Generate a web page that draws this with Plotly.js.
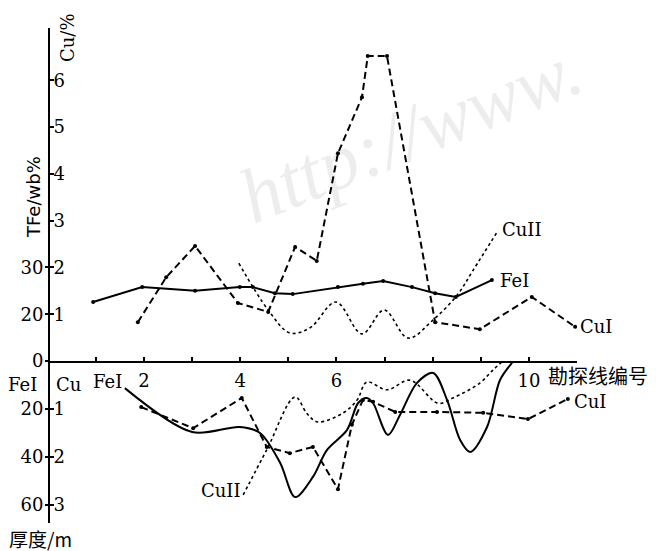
<!DOCTYPE html>
<html><head><meta charset="utf-8">
<script src="https://cdn.plot.ly/plotly-3.0.1.min.js"></script>
<style>html,body{margin:0;padding:0;background:#fff}</style>
</head><body><div id="chart" style="width:656px;height:551px"></div>
<script>
// ---- Upper panel: grade (TFe wb% / Cu %) ----
const feUpX  = [0.94, 1.96, 3.06, 3.99, 4.26, 4.72, 5.09, 6.03, 6.55, 6.97, 7.57, 8.05, 8.48, 9.23];
const feUpY  = [22.6, 25.8, 25.0, 25.8, 25.8, 24.5, 24.3, 25.8, 26.5, 27.1, 25.8, 24.5, 23.7, 27.3];
const cu1UpX = [1.87, 2.46, 3.06, 3.95, 4.58, 5.14, 5.59, 6.03, 6.53, 6.65, 7.05, 8.05, 8.98, 10.06, 10.96];
const cu1UpY = [0.83, 1.79, 2.46, 1.24, 1.05, 2.44, 2.14, 4.44, 5.64, 6.52, 6.52, 0.83, 0.68, 1.37, 0.73];
const cu2UpX = [3.97, 4.58, 5.03, 5.45, 5.99, 6.53, 6.99, 7.49, 8.01, 8.51, 8.84, 9.34];
const cu2UpY = [2.09, 1.09, 0.60, 0.71, 1.26, 0.58, 1.09, 0.49, 0.88, 1.41, 1.94, 2.76];
// ---- Lower panel: thickness (m) ----
const feLoX  = [1.60, 3.00, 3.99, 4.41, 4.83, 5.14, 5.51, 5.80, 6.22, 6.45, 6.63, 6.76, 7.07, 7.32, 7.67, 8.01, 8.30, 8.57, 8.78, 9.13, 9.40, 9.65];
const feLoY  = [11.3, 29.6, 27.5, 30.0, 42.5, 56.7, 48.3, 37.1, 28.7, 17.5, 15.4, 17.5, 30.8, 22.5, 9.2, 5.0, 16.3, 32.9, 37.9, 27.5, 7.9, 0.8];
const cu1LoX = [1.94, 3.02, 4.03, 4.55, 5.03, 5.51, 6.03, 6.32, 6.55, 6.76, 7.22, 8.09, 9.05, 9.98, 10.81];
const cu1LoY = [0.96, 1.40, 0.77, 1.79, 1.92, 1.79, 2.67, 1.33, 0.81, 0.85, 1.06, 1.06, 1.08, 1.21, 0.79];
const cu2LoX = [4.06, 4.55, 5.14, 5.39, 5.61, 6.14, 6.43, 6.63, 7.05, 7.53, 8.11, 8.42, 8.98, 9.25, 9.44];
const cu2LoY = [2.79, 1.85, 0.75, 1.10, 1.27, 1.08, 0.81, 0.44, 0.60, 0.40, 0.88, 0.77, 0.46, 0.19, 0.02];
// ---- ticks ----
const xTickVals = [1, 2, 3, 4, 5, 6, 7, 8, 9, 10, 11];
const xTickText = ['', '2', '', '4', '', '6', '', '', '', '10', ''];
const cuUpTicks = [1, 2, 3, 4, 5, 6];
const feUpTicks = [10, 20, 30];
const feUpText  = ['0', '20', '30'];
const cuLoTicks = [1, 2, 3];
const feLoTicks = [20, 40, 60];

const K = 'black';
const serif = 'DejaVu Serif';
const dashP = '7px,4px';

const traces = [
  {x: feUpX, y: feUpY, xaxis: 'x', yaxis: 'y3', mode: 'lines+markers', line: {color: K, width: 2}, marker: {size: 4, color: K}},
  {x: cu1UpX, y: cu1UpY, xaxis: 'x', yaxis: 'y', mode: 'lines+markers', line: {color: K, width: 2, dash: dashP}, marker: {size: 4, color: K}},
  {x: cu2UpX, y: cu2UpY, xaxis: 'x', yaxis: 'y', mode: 'lines', line: {color: K, width: 1.6, dash: 'dot', shape: 'spline'}},
  {x: feLoX, y: feLoY, xaxis: 'x', yaxis: 'y4', mode: 'lines', line: {color: K, width: 2, shape: 'spline', smoothing: 0.9}},
  {x: cu1LoX, y: cu1LoY, xaxis: 'x', yaxis: 'y2', mode: 'lines+markers', line: {color: K, width: 2, dash: dashP}, marker: {size: 4, color: K}},
  {x: cu2LoX, y: cu2LoY, xaxis: 'x', yaxis: 'y2', mode: 'lines', line: {color: K, width: 1.6, dash: 'dot', shape: 'spline'}}
];

const L = 50, T = 28, W = 527, H = 495;
const px = v => (v - L) / W;
const py = v => (T + H - v) / H;
const tf = {family: serif, size: 18, color: K};
function lab(text, x, y, extra) {
  return Object.assign({text: text, x: px(x), y: py(y), xref: 'paper', yref: 'paper', showarrow: false,
    xanchor: 'center', yanchor: 'middle', font: tf}, extra || {});
}
const annotations = [
  lab('http://www.', 410, 132, {textangle: -22, font: {family: 'Liberation Serif', size: 78, color: 'rgba(0,0,0,0.07)', style: 'italic'}}),
  lab('CuII', 522, 230), lab('FeI', 514, 280), lab('CuI', 596, 326),
  lab('FeI', 107, 382), lab('CuII', 221, 490), lab('CuI', 590, 401),
  lab('勘探线编号', 598, 375, {font: {family: 'Noto Sans CJK SC', size: 20, color: K}}),
  lab('FeI', 22, 384), lab('Cu', 68, 384),
  lab('厚度/m', 40, 538, {font: {family: 'Noto Sans CJK SC', size: 19, color: K}}),
  lab('TFe/wb%', 33, 197, {textangle: -90, font: {family: 'DejaVu Sans', size: 18, color: K}}),
  lab('Cu/%', 67, 38, {textangle: -90})
];

const yBase = {showline: true, linecolor: K, linewidth: 2, showgrid: false, zeroline: false, tickfont: tf, tickcolor: K, tickwidth: 2};
const split = 162 / 495;
const layout = {
  width: 656, height: 551,
  margin: {l: L, r: 656 - L - W, t: T, b: 551 - T - H},
  paper_bgcolor: 'white', plot_bgcolor: 'white', showlegend: false,
  xaxis: {range: [0.044, 11], domain: [0, 1], anchor: 'y', showline: true, linecolor: K, linewidth: 2,
    showgrid: false, zeroline: false, ticks: 'inside', ticklen: 4, tickwidth: 2, tickcolor: K,
    tickvals: xTickVals, ticktext: xTickText, tickfont: tf, ticklabelstandoff: 2},
  yaxis: Object.assign({}, yBase, {domain: [split, 1], range: [0, 7.12], anchor: 'x', ticks: 'inside', ticklen: 4,
    tickvals: cuUpTicks, ticklabelposition: 'inside'}),
  yaxis3: Object.assign({}, yBase, {overlaying: 'y', side: 'left', anchor: 'x', range: [10, 81.2], showline: false,
    ticks: 'outside', ticklen: 4, tickvals: feUpTicks, ticktext: feUpText, ticklabelstandoff: -2}),
  yaxis2: Object.assign({}, yBase, {domain: [0, split], range: [3.375, 0], anchor: 'x', ticks: 'inside', ticklen: 4,
    tickvals: cuLoTicks, ticklabelposition: 'inside'}),
  yaxis4: Object.assign({}, yBase, {overlaying: 'y2', side: 'left', anchor: 'x', range: [67.5, 0], showline: false,
    ticks: 'outside', ticklen: 4, tickvals: feLoTicks, ticklabelstandoff: -2}),
  annotations: annotations
};
Plotly.newPlot('chart', traces, layout, {staticPlot: true, displayModeBar: false});
</script></body></html>
